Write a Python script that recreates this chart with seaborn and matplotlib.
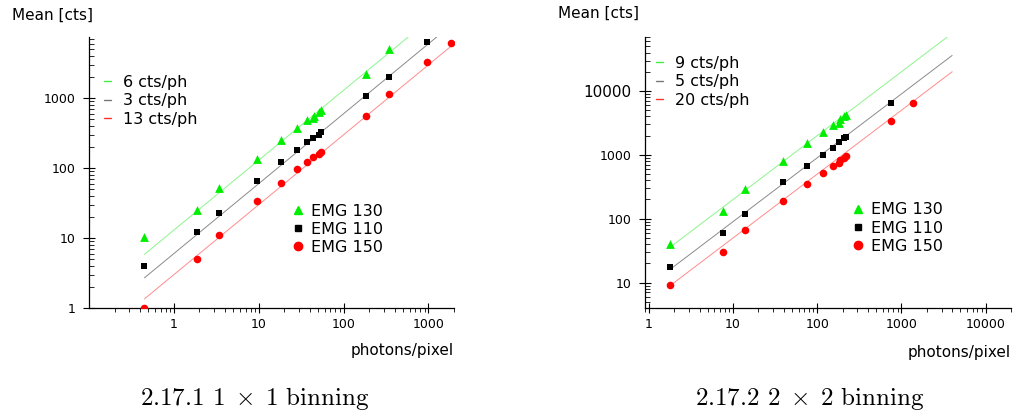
import matplotlib
matplotlib.use("Agg")
import matplotlib.pyplot as plt
from matplotlib.lines import Line2D
from matplotlib.ticker import LogLocator, FixedLocator, NullFormatter
import numpy as np
import pandas as pd
import seaborn as sns

# ---- 1x1 binning: mean signal vs. photons per pixel ----
x1_emg130 = [0.45, 1.85, 3.4, 9.5, 18.5, 28, 37, 44, 45, 51, 54, 185, 340]
y1_emg130 = [10.2, 25, 52, 134, 254, 373, 485, 520, 565, 631, 681, 2230, 5020]
x1_emg110 = [0.45, 1.85, 3.4, 9.5, 18.5, 28, 37, 44, 51, 54, 185, 340, 955]
y1_emg110 = [4.0, 12.2, 22.5, 65, 123, 179, 233, 268, 302, 327, 1080, 2040, 6300]
x1_emg150 = [0.45, 1.85, 3.4, 9.5, 18.5, 28, 37, 44, 51, 54, 185, 340, 955, 1830]
y1_emg150 = [1.0, 5.07, 11.2, 33.8, 61.7, 96.8, 121, 142, 160, 169, 559, 1140, 3340, 6240]
fit1_labels = ["6 cts/ph", "3 cts/ph", "13 cts/ph"]
fit1_gain = [6, 3, 13]
fit1_range = [0.45, 2000]

# ---- 2x2 binning ----
x2_emg130 = [1.8, 7.5, 13.8, 39, 75, 116, 152, 183, 185, 210, 221]
y2_emg130 = [40.7, 133, 287, 806, 1520, 2260, 2980, 3160, 3700, 4020, 4270]
x2_emg110 = [1.8, 7.5, 13.8, 39, 75, 116, 152, 183, 210, 221, 760]
y2_emg110 = [17.4, 59.7, 120, 370, 673, 1000, 1300, 1580, 1840, 1910, 6490]
x2_emg150 = [1.8, 7.5, 13.8, 39, 75, 116, 152, 183, 185, 210, 221, 760, 1390]
y2_emg150 = [9.2, 30.5, 67.3, 187, 344, 517, 665, 732, 826, 887, 964, 3400, 6490]
fit2_labels = ["9 cts/ph", "5 cts/ph", "20 cts/ph"]
fit2_gain = [9, 5, 20]
fit2_range = [1.8, 4000]

series_names = ["EMG 130", "EMG 110", "EMG 150"]
series_colors = {"EMG 130": "#00ee00", "EMG 110": "black", "EMG 150": "#ff0000"}
series_markers = {"EMG 130": "^", "EMG 110": "s", "EMG 150": "o"}
series_sizes = {"EMG 130": 40, "EMG 110": 24, "EMG 150": 30}
# fit lines: first label belongs to the black line, second to red, third to green
fit_line_colors = ["#8a8a8a", "#ff8c8c", "#8cf58c"]
# swatch colours shown in the fit legend
fit_legend_colors = ["#40ee40", "#777777", "#ff3030"]

sns.set_style("ticks")
plt.rcParams["font.family"] = ["DejaVu Sans"]
plt.rcParams["text.color"] = "black"
plt.rcParams["xtick.color"] = "black"
plt.rcParams["ytick.color"] = "black"
plt.rcParams["axes.edgecolor"] = "black"

fig = plt.figure(figsize=(10.16, 4.16), dpi=100)
ax1 = fig.add_axes([89 / 1016, 108 / 416, 365 / 1016, 271 / 416])
ax2 = fig.add_axes([645 / 1016, 108 / 416, 366 / 1016, 271 / 416])


def points_frame(xs, ys):
    rows = []
    for name, x, y in zip(series_names, xs, ys):
        for xi, yi in zip(x, y):
            rows.append({"photons": xi, "mean": yi, "series": name})
    return pd.DataFrame(rows)


def fit_frame(gains, xrange_):
    rows = []
    for i, g in enumerate(gains):
        for xi in xrange_:
            rows.append({"photons": xi, "mean": g * xi, "fit": i})
    return pd.DataFrame(rows)


def draw_panel(ax, xs, ys, gains, labels, xrange_, xlim, ylim, line_legend_loc,
               marker_legend_loc):
    ax.set_xscale("log")
    ax.set_yscale("log")
    fits = fit_frame(gains, xrange_)
    sns.lineplot(data=fits, x="photons", y="mean", hue="fit",
                 palette=fit_line_colors, linewidth=0.7, legend=False, ax=ax)
    pts = points_frame(xs, ys)
    for name in series_names:
        sub = pts[pts["series"] == name]
        sns.scatterplot(data=sub, x="photons", y="mean", color=series_colors[name],
                        marker=series_markers[name], s=series_sizes[name],
                        linewidth=0, legend=False, ax=ax, zorder=3)
    ax.set_xlim(*xlim)
    ax.set_ylim(*ylim)
    ax.set_xlabel("")
    ax.set_ylabel("")
    sns.despine(ax=ax)
    for s in ("left", "bottom"):
        ax.spines[s].set_linewidth(0.9)

    ax.xaxis.set_minor_locator(LogLocator(base=10, subs=np.arange(2, 10)))
    ax.yaxis.set_minor_locator(LogLocator(base=10, subs=np.arange(2, 10)))
    ax.xaxis.set_minor_formatter(NullFormatter())
    ax.yaxis.set_minor_formatter(NullFormatter())
    ax.tick_params(axis="x", which="major", direction="inout", length=7, width=0.8,
                   labelsize=9, pad=4)
    ax.tick_params(axis="x", which="minor", direction="out", length=3, width=0.6)
    ax.tick_params(axis="y", which="major", direction="inout", length=8, width=0.8,
                   labelsize=9, pad=6)
    ax.tick_params(axis="y", which="minor", direction="in", length=3.5, width=0.6)

    line_handles = [Line2D([], [], color=c, lw=1.0) for c in fit_legend_colors]
    leg1 = ax.legend(line_handles, labels, loc="upper left",
                     bbox_to_anchor=line_legend_loc, frameon=False, fontsize=11.5,
                     handlelength=0.45, handletextpad=0.75, labelspacing=0.22,
                     borderpad=0, borderaxespad=0)
    ax.add_artist(leg1)
    marker_handles = [Line2D([], [], ls="", marker=series_markers[n],
                             color=series_colors[n], markersize=6 if n != "EMG 110" else 5)
                      for n in series_names]
    ax.legend(marker_handles, series_names, loc="upper left",
              bbox_to_anchor=marker_legend_loc, frameon=False, fontsize=11.5,
              handlelength=0.6, handletextpad=0.5, labelspacing=0.2,
              borderpad=0, borderaxespad=0, numpoints=1)


draw_panel(ax1, [x1_emg130, x1_emg110, x1_emg150], [y1_emg130, y1_emg110, y1_emg150],
           fit1_gain, fit1_labels, fit1_range, (0.1, 2000), (1, 7500),
           (0.04, 0.86), (0.56, 0.385))
ax1.yaxis.set_major_locator(FixedLocator([1, 10, 100, 1000]))
ax1.set_yticklabels(["1", "10", "100", "1000"])
ax1.xaxis.set_major_locator(FixedLocator([1, 10, 100, 1000]))
ax1.set_xticklabels(["1", "10", "100", "1000"])

draw_panel(ax2, [x2_emg130, x2_emg110, x2_emg150], [y2_emg130, y2_emg110, y2_emg150],
           fit2_gain, fit2_labels, fit2_range, (0.9, 20000), (4, 70000),
           (0.03, 0.93), (0.57, 0.39))
ax2.yaxis.set_major_locator(FixedLocator([10, 100, 1000, 10000]))
ax2.set_yticklabels(["10", "100", "1000", "10000"])
ax2.get_yticklabels()[-1].set_fontsize(11)
ax2.xaxis.set_major_locator(FixedLocator([1, 10, 100, 1000, 10000]))
ax2.set_xticklabels(["1", "10", "100", "1000", "10000"])

# axis titles placed at the corners
fig.text(12 / 1016, 1 - 15 / 416, "Mean [cts]", fontsize=11, ha="left", va="center")
fig.text(558 / 1016, 1 - 13 / 416, "Mean [cts]", fontsize=11, ha="left", va="center")
fig.text(454 / 1016, 1 - 350 / 416, "photons/pixel", fontsize=11, ha="right", va="center")
fig.text(1011 / 1016, 1 - 353 / 416, "photons/pixel", fontsize=11, ha="right", va="center")

# sub-figure captions
cap_kw = dict(fontsize=18, ha="center", va="center", family="cmr10", math_fontfamily="cm")
fig.text(255 / 1016, 1 - 399 / 416, r"2.17.1 $1\;\times\;1$ binning", **cap_kw)
fig.text(810 / 1016, 1 - 399 / 416, r"2.17.2 $2\;\times\;2$ binning", **cap_kw)

fig.savefig("out.png", dpi=100, facecolor="white")
